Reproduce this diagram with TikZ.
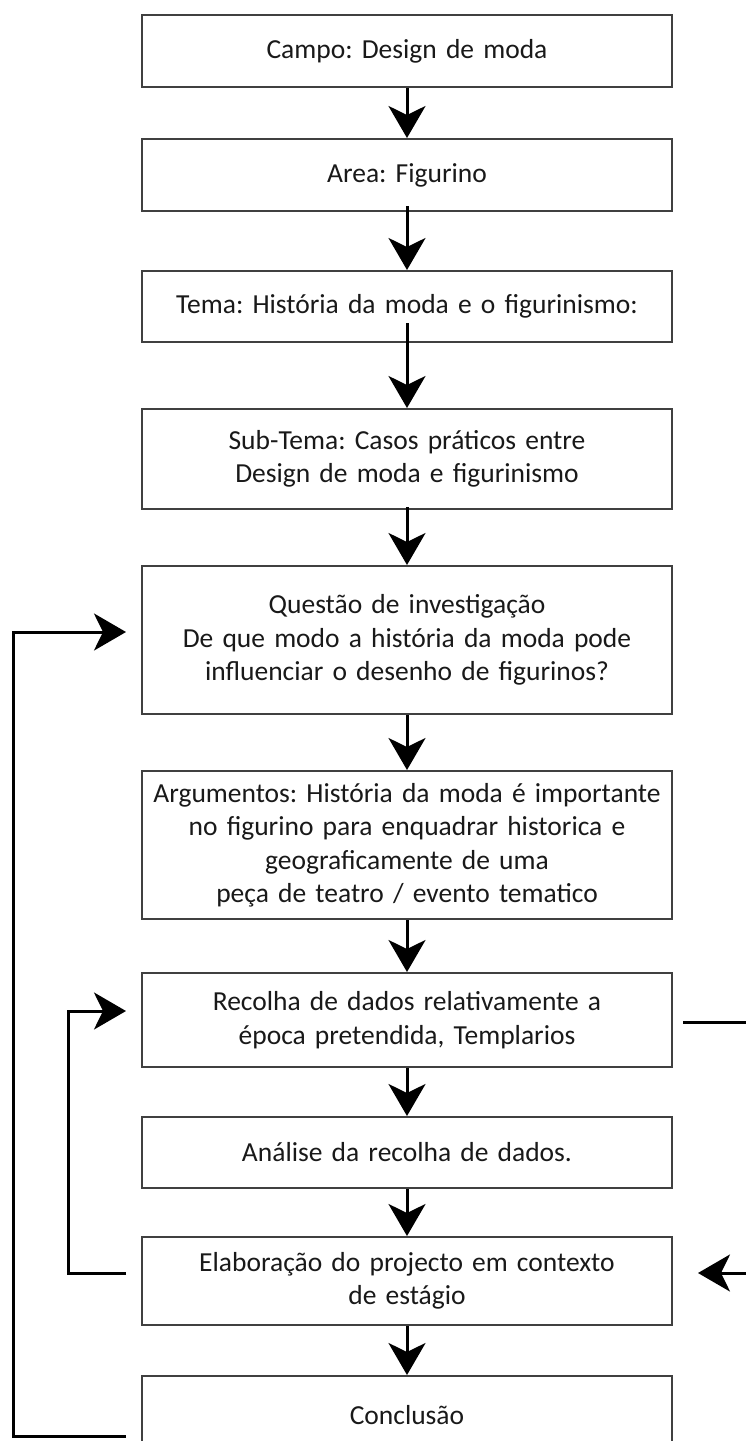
\documentclass[tikz,border=0pt]{standalone}
\usepackage{fontspec}
\setmainfont{Carlito}
\frenchspacing
\usetikzlibrary{arrows.meta}

\begin{document}
\begin{tikzpicture}[x=1pt, y=-1pt,
            box/.style={draw=black!75, line width=2pt, text=black!90, text width=530pt, inner sep=0pt, align=center, font=\fontsize{27.5}{33.5}\selectfont},
            flow/.style={line width=3pt, -{Stealth[length=32pt, width=37pt, inset=9pt]}}]
            \useasboundingbox (0,0) rectangle (746,1441);

            % Define boxes
            \node[box, minimum height=72pt] (campo) at (407, 51) {Campo: Design de moda};
            \node[box, minimum height=72pt] (area) at (407, 175) {Area: Figurino};
            \node[box, minimum height=71pt] (tema) at (407, 306.5) {Tema: História da moda e o figurinismo:};
            \node[box, minimum height=100pt] (subtema) at (407, 459) {Sub-Tema: Casos práticos entre\\Design de moda e figurinismo};
            \node[box, minimum height=148pt] (questao) at (407, 640) {Questão de investigação\\De que modo a história da moda pode\\influenciar o desenho de figurinos?};
            \node[box, minimum height=148pt] (argumentos) at (407, 845) {Argumentos: História da moda é importante\\no figurino para enquadrar historica e\\geograficamente de uma\\peça de teatro / evento tematico};
            \node[box, minimum height=94pt] (recolha) at (407, 1020) {Recolha de dados relativamente a\\época pretendida, Templarios};
            \node[box, minimum height=71pt] (analise) at (407, 1152.5) {Análise da recolha de dados.};
            \node[box, minimum height=88pt] (elaboracao) at (407, 1281) {Elaboração do projecto em contexto\\de estágio};
            \node[box, minimum height=78pt] (conclusao) at (407, 1415) {Conclusão};

            % Bend points of the loops
            \coordinate (outer) at (13, 632);
            \coordinate (inner) at (68, 1011);
            \coordinate (right) at (780, 1022);

            % Draw edges
            \draw[flow] (campo) -- (area);
            \draw[flow] (area.south) ++(0,-6) -- (tema);
            \draw[flow] (tema.south) ++(0,-20) -- (subtema);
            \draw[flow] (subtema.south) ++(0,-3) -- (questao);
            \draw[flow] (questao) -- (argumentos);
            \draw[flow] (argumentos) -- (recolha);
            \draw[flow] (recolha) -- (analise);
            \draw[flow] (analise) -- (elaboracao);
            \draw[flow] (elaboracao) -- (conclusao);

            % Draw loops
            \draw[flow, shorten <=15pt, shorten >=15pt] ([yshift=-21pt]conclusao.west) -| (outer) -- ([yshift=8pt]questao.west);
            \draw[flow, shorten <=15pt, shorten >=15pt] ([yshift=8pt]elaboracao.west) -| (inner) -- ([yshift=9pt]recolha.west);
            \draw[flow, shorten <=10pt, shorten >=25pt] ([yshift=-2pt]recolha.east) -- (right) |- ([yshift=8pt]elaboracao.east);
        \end{tikzpicture}
\end{document}
